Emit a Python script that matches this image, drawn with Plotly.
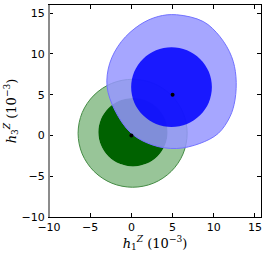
import plotly.graph_objects as go

# contour vertices (units of 1e-3)
green_outer_x = [6.77, 6.27, 4.83, 2.68, 0.15, -2.38, -4.53, -5.97, -6.47, -5.97, -4.53, -2.38, 0.15, 2.68, 4.83, 6.27]
green_outer_y = [0.27, 2.80, 4.95, 6.39, 6.89, 6.39, 4.95, 2.80, 0.27, -2.26, -4.41, -5.85, -6.35, -5.85, -4.41, -2.26]
green_inner_x = [4.39, 4.07, 3.16, 1.80, 0.19, -1.42, -2.78, -3.69, -4.01, -3.69, -2.78, -1.42, 0.19, 1.80, 3.16, 4.07]
green_inner_y = [0.40, 2.01, 3.37, 4.28, 4.60, 4.28, 3.37, 2.01, 0.40, -1.21, -2.57, -3.48, -3.80, -3.48, -2.57, -1.21]
blue_outer_x = [5.48, 8.72, 10.74, 12.16, 12.69, 12.57, 11.96, 10.54, 8.31, 5.48, 2.64, 0.00, -2.02, -2.95, -2.63, -1.21, 1.02, 3.25]
blue_outer_y = [14.80, 13.97, 12.13, 9.67, 7.21, 4.34, 2.30, 0.25, -0.98, -1.60, -1.19, 0.25, 3.12, 5.98, 8.85, 11.52, 13.57, 14.59]
blue_inner_x = [9.77, 9.40, 8.33, 6.75, 4.87, 2.99, 1.41, 0.34, -0.03, 0.34, 1.41, 2.99, 4.87, 6.75, 8.33, 9.40]
blue_inner_y = [5.93, 7.81, 9.39, 10.46, 10.83, 10.46, 9.39, 7.81, 5.93, 4.05, 2.47, 1.40, 1.03, 1.40, 2.47, 4.05]
best_x = [0, 5]
best_y = [0, 5]

x_ticks = [-10, -5, 0, 5, 10, 15]
y_ticks = [-10, -5, 0, 5, 10, 15]


def closed(v):
    return list(v) + [v[0]]


def ring(ox, oy, ix, iy):
    # outer and inner path with opposite orientation -> hole (nonzero rule)
    xs = closed(ox) + [None] + closed(ix[::-1])
    ys = closed(oy) + [None] + closed(iy[::-1])
    return xs, ys


fig = go.Figure()

gx, gy = ring(green_outer_x, green_outer_y, green_inner_x, green_inner_y)
fig.add_trace(go.Scatter(x=gx, y=gy, mode="lines", fill="toself",
                         fillcolor="rgb(152,197,152)", line=dict(width=0, shape="spline"),
                         hoverinfo="skip"))
fig.add_trace(go.Scatter(x=closed(green_inner_x), y=closed(green_inner_y), mode="lines", fill="toself",
                         fillcolor="rgb(0,98,0)", line=dict(width=0, shape="spline"),
                         hoverinfo="skip"))
fig.add_trace(go.Scatter(x=closed(green_outer_x), y=closed(green_outer_y), mode="lines",
                         line=dict(width=1, color="rgb(70,140,70)", shape="spline"),
                         hoverinfo="skip"))

bx, by = ring(blue_outer_x, blue_outer_y, blue_inner_x, blue_inner_y)
fig.add_trace(go.Scatter(x=bx, y=by, mode="lines", fill="toself",
                         fillcolor="rgba(150,150,255,0.85)", line=dict(width=0, shape="spline"),
                         hoverinfo="skip"))
fig.add_trace(go.Scatter(x=closed(blue_inner_x), y=closed(blue_inner_y), mode="lines", fill="toself",
                         fillcolor="rgba(0,0,255,0.85)", line=dict(width=0, shape="spline"),
                         hoverinfo="skip"))
fig.add_trace(go.Scatter(x=closed(blue_outer_x), y=closed(blue_outer_y), mode="lines",
                         line=dict(width=1, color="rgb(115,115,255)", shape="spline"),
                         hoverinfo="skip"))

fig.add_trace(go.Scatter(x=best_x, y=best_y, mode="markers",
                         marker=dict(color="black", size=4), hoverinfo="skip"))

tickfont = dict(family="DejaVu Sans", size=11, color="black")
titlefont = dict(family="DejaVu Serif", size=13, color="black")

fig.update_layout(
    width=267, height=256,
    margin=dict(l=49, r=6, t=5, b=39, autoexpand=False),
    paper_bgcolor="white", plot_bgcolor="white",
    showlegend=False,
    xaxis=dict(range=[-10, 15.73], tickvals=x_ticks, ticktext=[str(t).replace("-", "\u2212") for t in x_ticks],
               showgrid=False, zeroline=False, showline=True, linecolor="black", linewidth=1,
               mirror="allticks", ticks="inside", ticklen=4, tickcolor="black",
               tickfont=tickfont, automargin=False, ticklabelstandoff=0,
               title=dict(text="<i>h</i><sub>1</sub><sup><i>Z</i></sup> (10<sup>\u22123</sup>)",
                          font=titlefont, standoff=2)),
    yaxis=dict(range=[-10, 16], tickvals=y_ticks, ticktext=[str(t).replace("-", "\u2212") for t in y_ticks],
               showgrid=False, zeroline=False, showline=True, linecolor="black", linewidth=1,
               mirror="allticks", ticks="inside", ticklen=4, tickcolor="black",
               tickfont=tickfont, ticklabelstandoff=1, automargin=False,
               title=dict(text="<i>h</i><sub>3</sub><sup><i>Z</i></sup> (10<sup>\u22123</sup>)",
                          font=titlefont, standoff=2)),
    shapes=[dict(type="line", xref="x domain", yref="y domain", x0=0, x1=0, y0=0, y1=1,
                 line=dict(color="rgb(140,140,140)", width=2))],
)

fig.write_html("out.html", config={"displayModeBar": False, "staticPlot": True},
               post_script="document.body.style.margin='0';document.body.style.padding='0';")
